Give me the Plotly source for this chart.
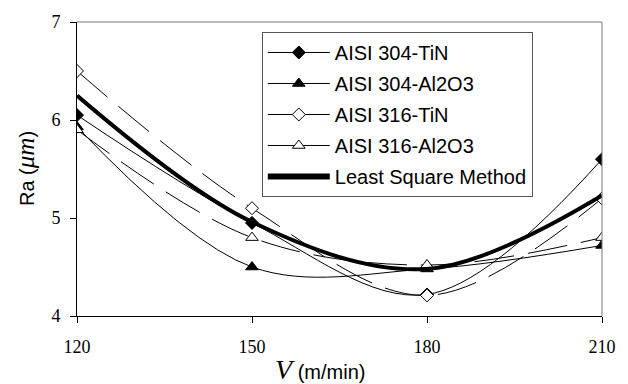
import plotly.graph_objects as go

# Cutting speed (m/min)
speed = [120, 150, 180, 210]

# Surface roughness Ra (um) for each workpiece/coating pair
ra_304_tin = [6.05, 4.95, 4.22, 5.60]
ra_304_al2o3 = [5.93, 4.50, 4.48, 4.72]
ra_316_tin = [6.50, 5.10, 4.21, 5.20]
ra_316_al2o3 = [5.90, 4.80, 4.52, 4.80]
ra_lsm = [6.25, 4.96, 4.48, 5.23]

series = [
    ("AISI 304-TiN", ra_304_tin, "diamond", "black", "solid"),
    ("AISI 304-Al2O3", ra_304_al2o3, "triangle-up", "black", "solid"),
    ("AISI 316-TiN", ra_316_tin, "diamond", "white", "40px,14px"),
    ("AISI 316-Al2O3", ra_316_al2o3, "triangle-up", "white", "40px,14px"),
]

fig = go.Figure()

for name, vals, sym, fill, dash in series:
    fig.add_trace(go.Scatter(
        x=speed, y=vals, mode="lines+markers", name=name, showlegend=False,
        line=dict(color="black", width=1, dash=dash, shape="spline", smoothing=1.0),
        marker=dict(symbol=sym, size=10 if "diamond" in sym else 11, color=fill,
                    line=dict(color="black", width=1)),
    ))

fig.add_trace(go.Scatter(
    x=speed, y=ra_lsm, mode="lines", name="Least Square Method", showlegend=False,
    line=dict(color="black", width=4, shape="spline", smoothing=1.0),
))

# legend entries (solid line samples)
for i, (name, vals, sym, fill, dash) in enumerate(series):
    fig.add_trace(go.Scatter(
        x=[None], y=[None], mode="lines+markers", name=name, legendgroup=f"g{i}",
        line=dict(color="black", width=1),
        marker=dict(symbol=sym, size=10 if "diamond" in sym else 11, color=fill,
                    line=dict(color="black", width=1)),
    ))
fig.add_trace(go.Scatter(
    x=[None], y=[None], mode="lines", name="Least Square Method", legendgroup="g4",
    line=dict(color="black", width=6),
))

fig.update_layout(
    width=628, height=384,
    margin=dict(l=77, r=25, t=19, b=68),
    paper_bgcolor="white", plot_bgcolor="white",
    showlegend=True,
    legend=dict(
        x=0.352, y=0.966, xanchor="left", yanchor="top",
        bordercolor="#555", borderwidth=1, bgcolor="white",
        font=dict(family="Arial, Liberation Sans, sans-serif", size=20, color="black"),
        itemwidth=62, traceorder="grouped", tracegroupgap=2,
    ),
    xaxis=dict(
        range=[120, 210], tickvals=[120, 150, 180, 210],
        showgrid=False, zeroline=False, showline=True, linecolor="black", linewidth=1,
        ticks="outside", ticklen=6, tickcolor="black", ticklabelstandoff=8,
        tickfont=dict(family="Liberation Serif, Times New Roman, serif", size=18, color="black"),
    ),
    yaxis=dict(
        range=[4, 7], tickvals=[4, 5, 6, 7],
        showgrid=False, zeroline=False, showline=True, linecolor="black", linewidth=1,
        ticks="outside", ticklen=6, tickcolor="black", ticklabelstandoff=6,
        tickfont=dict(family="Liberation Serif, Times New Roman, serif", size=18, color="black"),
    ),
    shapes=[
        dict(type="line", xref="paper", yref="paper", x0=0, x1=1, y0=1, y1=1,
             line=dict(color="#777", width=1)),
        dict(type="line", xref="paper", yref="paper", x0=1, x1=1, y0=0, y1=1,
             line=dict(color="#777", width=1)),
    ],
    annotations=[
        dict(xref="paper", yref="paper", x=0.462, y=-0.183, xanchor="center", yanchor="middle",
             showarrow=False,
             text="<span style='font-family:Liberation Serif, serif;font-size:28px'><i>V</i></span>"
                  "<span style='font-size:20px'> (m/min)</span>",
             font=dict(family="Arial, Liberation Sans, sans-serif", size=20, color="black")),
        dict(xref="paper", yref="paper", x=-0.099, y=0.5, xanchor="center", yanchor="middle",
             showarrow=False, textangle=-90,
             text="Ra (<span style='font-family:Liberation Serif, serif;font-size:25px'><i>μm</i></span>)",
             font=dict(family="Arial, Liberation Sans, sans-serif", size=20, color="black")),
    ],
)

fig.write_html("out.html")
